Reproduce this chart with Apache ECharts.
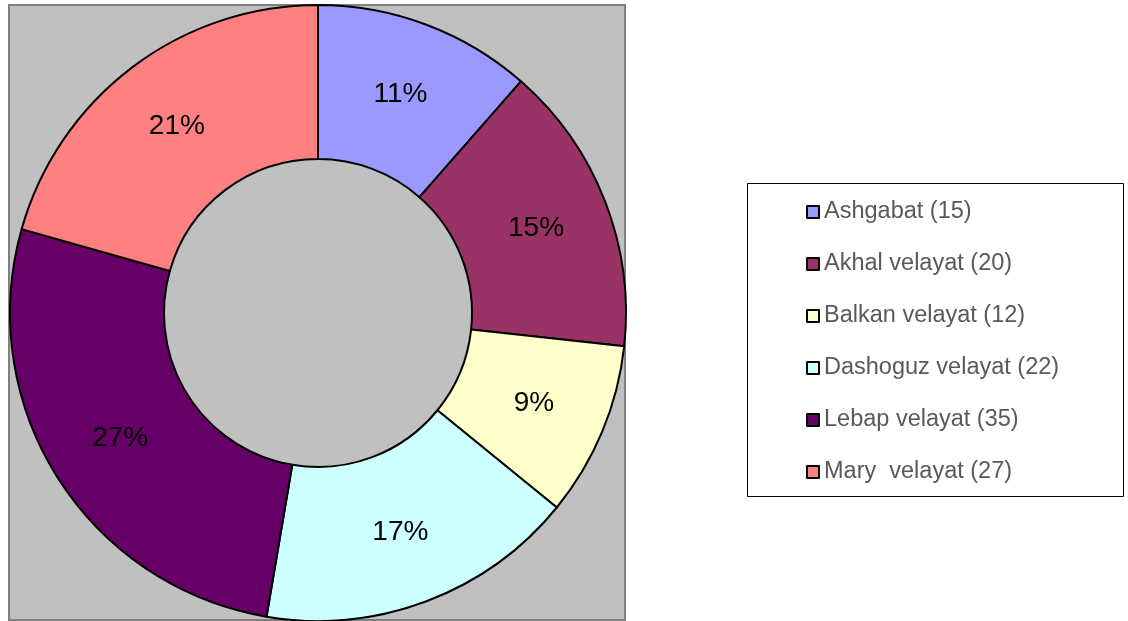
<!DOCTYPE html>
<html>
<head>
<meta charset="utf-8">
<title>Velayat donut</title>
<script src="https://cdn.jsdelivr.net/npm/echarts@6/dist/echarts.min.js"></script>
<style>
  html, body { margin: 0; padding: 0; background: #fff; }
  #chart { width: 1128px; height: 621px; }
</style>
</head>
<body>
<div id="chart"></div>
<script>
const regions = ['Ashgabat', 'Akhal velayat', 'Balkan velayat', 'Dashoguz velayat', 'Lebap velayat', 'Mary  velayat']
const counts = [15, 20, 12, 22, 35, 27]
const colors = ['#9999ff', '#993366', '#ffffcc', '#ccffff', '#660066', '#ff8080']

const chart = echarts.init(document.getElementById('chart'))

const pieData = regions.map((name, i) => ({
  name: name + ' (' + counts[i] + ')',
  value: counts[i],
  itemStyle: { color: colors[i] }
}))

const option = {
  animation: false,
  graphic: [
    {
      type: 'rect',
      z: 0,
      shape: { x: 9, y: 5, width: 616, height: 615 },
      style: { fill: '#c0c0c0', stroke: '#808080', lineWidth: 2 }
    },
    {
      type: 'rect',
      z: 0,
      shape: { x: 747.5, y: 183.5, width: 376, height: 313 },
      style: { fill: '#ffffff', stroke: '#000000', lineWidth: 1 }
    }
  ],
  legend: {
    orient: 'vertical',
    left: 806,
    top: 200,
    padding: 0,
    itemWidth: 12,
    itemHeight: 12,
    itemGap: 28,
    icon: 'rect',
    itemStyle: { borderColor: '#000', borderWidth: 2 },
    textStyle: {
      fontFamily: 'Liberation Sans, Arial, sans-serif',
      fontSize: 23.5,
      lineHeight: 24,
      color: '#595959'
    },
    selectedMode: false
  },
  series: [
    {
      type: 'pie',
      center: [318, 313],
      radius: [154, 308],
      startAngle: 90,
      clockwise: true,
      avoidLabelOverlap: false,
      itemStyle: { borderColor: '#000', borderWidth: 2 },
      label: {
        show: true,
        position: 'inside',
        formatter: p => Math.round(p.percent) + '%',
        fontFamily: 'Liberation Sans, Arial, sans-serif',
        fontSize: 28,
        color: '#000',
        padding: [7, 0, 0, 0]
      },
      labelLine: { show: false },
      emphasis: { disabled: true },
      data: pieData
    }
  ]
}

chart.setOption(option)
</script>
</body>
</html>
